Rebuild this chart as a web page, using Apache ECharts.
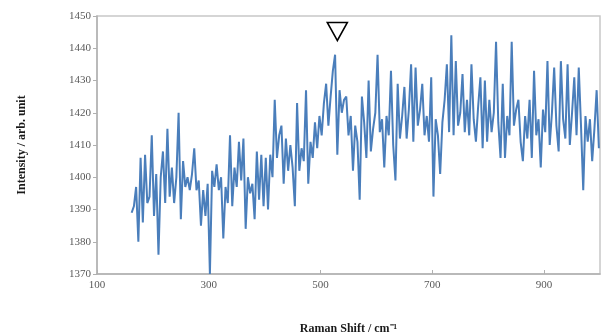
<!DOCTYPE html>
<html>
<head>
<meta charset="utf-8">
<script src="https://cdn.jsdelivr.net/npm/echarts@6/dist/echarts.min.js"></script>
<style>html,body{margin:0;padding:0;background:#fff}#chart{width:606px;height:336px}</style>
</head>
<body>
<div id="chart"></div>
<script>
// Raman shift grid (cm^-1): first point and spacing of the sampled spectrum
var shiftStart = 162;
var shiftStep = 4;
// Intensity values (arb. unit)
var intensity = [
  1389,1391,1397,1380,1406,1386,1407,1392,1394,1413,
  1388,1401,1376,1400,1408,1392,1415,1394,1403,1392,
  1400,1420,1387,1405,1397,1400,1396,1401,1409,1396,
  1399,1385,1396,1388,1398,1370,1402,1397,1404,1396,
  1400,1381,1397,1392,1413,1391,1403,1397,1411,1399,
  1412,1384,1400,1395,1398,1387,1408,1393,1407,1391,
  1406,1390,1407,1400,1424,1406,1413,1416,1398,1412,
  1402,1410,1403,1391,1423,1402,1409,1405,1427,1398,
  1411,1406,1417,1409,1419,1413,1423,1429,1416,1425,
  1433,1438,1407,1427,1420,1424,1425,1413,1419,1402,
  1416,1411,1393,1425,1417,1406,1430,1408,1415,1420,
  1438,1414,1418,1403,1419,1413,1433,1410,1399,1429,
  1412,1419,1428,1412,1421,1435,1411,1434,1416,1421,
  1429,1413,1419,1411,1431,1394,1418,1413,1401,1417,
  1424,1435,1414,1444,1413,1436,1416,1420,1432,1414,
  1424,1413,1435,1418,1411,1422,1431,1409,1430,1411,
  1424,1414,1420,1442,1417,1406,1429,1406,1419,1413,
  1442,1416,1421,1424,1411,1405,1419,1412,1424,1406,
  1433,1413,1418,1403,1421,1414,1436,1410,1420,1434,
  1416,1408,1436,1418,1412,1435,1410,1420,1431,1413,
  1434,1416,1396,1419,1411,1418,1405,1415,1427,1409
];
// Peak marker (downward triangle) position
var markerShift = 530;
var markerIntensity = 1445.2;
// Axis settings
var xMin = 100, xMax = 1000, xInterval = 200;
var yMin = 1370, yMax = 1450, yInterval = 10;

var seriesData = intensity.map(function (v, i) { return [shiftStart + i * shiftStep, v]; });

var chart = echarts.init(document.getElementById('chart'), null, {renderer: 'canvas'});
var labelFont = {fontFamily: 'Liberation Serif', fontSize: 11, color: '#595959'};
chart.setOption({
  animation: false,
  backgroundColor: '#ffffff',
  grid: {left: 97, right: 6, top: 16, bottom: 62, show: true, borderColor: '#c8c8c8', borderWidth: 1.5, containLabel: false, outerBoundsMode: 'none'},
  xAxis: {
    type: 'value', min: xMin, max: xMax, interval: xInterval,
    name: 'Raman Shift / cm\u207B\u00B9', nameLocation: 'middle', nameGap: 49,
    nameTextStyle: {fontFamily: 'Liberation Serif', fontSize: 12, fontWeight: 'bold', color: '#1a1a1a'},
    axisLine: {show: true, lineStyle: {color: '#b0b0b0', width: 1.5}},
    axisTick: {show: true, inside: true, length: 4, lineStyle: {color: '#b0b0b0'}},
    axisLabel: Object.assign({margin: 6, showMaxLabel: false, formatter: function (v) { return String(v); }}, labelFont),
    splitLine: {show: false}
  },
  yAxis: {
    type: 'value', min: yMin, max: yMax, interval: yInterval,
    name: 'Intensity / arb. unit', nameLocation: 'middle', nameGap: 69, nameRotate: 90,
    nameTextStyle: {fontFamily: 'Liberation Serif', fontSize: 12, fontWeight: 'bold', color: '#1a1a1a'},
    axisLine: {show: true, lineStyle: {color: '#b0b0b0', width: 1.5}},
    axisTick: {show: true, inside: false, length: 4, lineStyle: {color: '#b0b0b0'}},
    axisLabel: Object.assign({margin: 6, formatter: function (v) { return String(v); }}, labelFont),
    splitLine: {show: false}
  },
  series: [{
    type: 'line',
    data: seriesData,
    showSymbol: false,
    lineStyle: {color: '#4a7ebb', width: 2},
    itemStyle: {color: '#4a7ebb'},
    markPoint: {
      symbol: 'triangle', symbolRotate: 180, symbolSize: [20, 18],
      itemStyle: {color: '#ffffff', borderColor: '#000000', borderWidth: 1.6},
      label: {show: false},
      data: [{coord: [markerShift, markerIntensity]}]
    }
  }]
});
</script>
</body>
</html>
